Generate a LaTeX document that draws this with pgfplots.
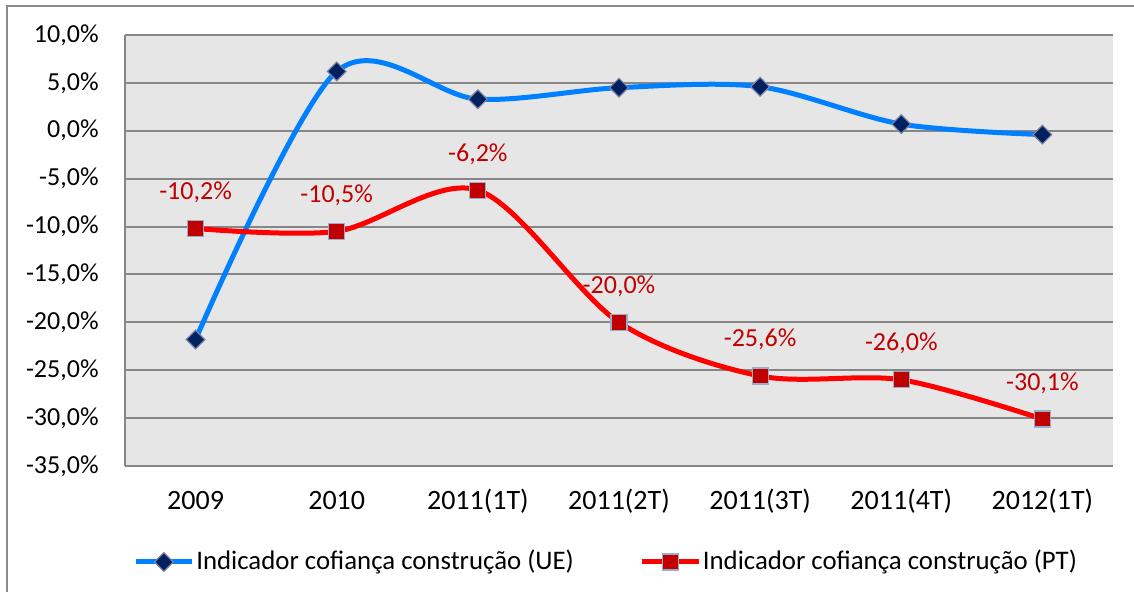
\documentclass[border=0pt]{standalone}
\usepackage{fontspec}
\setmainfont{Carlito}
\usepackage{pgfplots}
\pgfplotsset{compat=1.18}
\usepackage{pgfplotstable}
\definecolor{lineblue}{RGB}{0,128,255}
\definecolor{navy}{RGB}{0,32,96}
\definecolor{navyedge}{RGB}{120,130,165}
\definecolor{linered}{RGB}{255,0,0}
\definecolor{darkred}{RGB}{192,0,0}
\definecolor{rededge}{RGB}{150,175,205}
\definecolor{gridgray}{RGB}{134,134,134}
\definecolor{bggray}{RGB}{230,230,230}
\definecolor{framegray}{RGB}{140,140,140}
\pgfplotstableread{
x ue pt
0 -21.8 -10.2
1 6.2 -10.5
2 3.3 -6.2
3 4.5 -20.0
4 4.6 -25.6
5 0.7 -26.0
6 -0.4 -30.1
}\datatable
\begin{document}
\fontsize{13}{15.6}\selectfont
\begin{tikzpicture}
\useasboundingbox (0,0) rectangle (567pt,295.5pt);
\draw[framegray, line width=1pt] (3.5pt,-10pt) -- (3.5pt,292.5pt) -- (600pt,292.5pt);
\begin{axis}[
  at={(62.5pt,62.5pt)}, anchor=south west,
  scale only axis, width=494pt, height=215.5pt,
  xmin=-0.5, xmax=6.5, ymin=-35, ymax=10,
  xtick={0,...,6},
  xticklabels={2009,2010,2011(1T),2011(2T),2011(3T),2011(4T),2012(1T)},
  ytick={-35,-30,...,10},
  /pgf/number format/.cd, fixed, fixed zerofill, precision=1, use comma, assume math mode=true,
  /pgfplots/.cd,
  yticklabel={\pgfmathprintnumber{\tick}\%},
  yticklabel style={anchor=east, inner sep=0pt, xshift=-13pt},
  xticklabel style={anchor=base, inner sep=0pt, yshift=-21.5pt, font=\fontsize{14}{16}\selectfont},
  major tick length=0pt,
  axis lines*=left,
  axis line style={gridgray, line width=1pt, -},
  ymajorgrids, grid style={gridgray, line width=1pt},
  axis background/.style={fill=bggray},
  clip=false,
  legend columns=2,
  legend style={draw=none, fill=none, at={(0.487,-0.2227)}, anchor=center,
    /tikz/column 2/.style={column sep=32pt},
    font=\fontsize{13.4}{16}\selectfont,
    nodes={inner xsep=1pt, inner ysep=2pt}},
  legend image code/.code={\draw[mark repeat=2, mark phase=2, #1] plot coordinates {(0pt,0pt) (14pt,0pt) (28pt,0pt)};},
]
\addplot[lineblue, line width=2.5pt, smooth, tension=0.52,
  mark=square*, mark size=3.3pt,
  mark options={rotate=45, fill=navy, draw=navyedge, line width=0.6pt}]
  table[x=x, y=ue] {\datatable};
\addlegendentry{Indicador cofiança construção (UE)}
\addplot[linered, line width=2.5pt, smooth, tension=0.52,
  mark=square*, mark size=4pt,
  mark options={fill=darkred, draw=rededge, line width=0.6pt},
  point meta=y,
  nodes near coords={\pgfmathprintnumber[fixed, fixed zerofill, precision=1, use comma, assume math mode=true]{\pgfplotspointmeta}\%},
  nodes near coords style={anchor=base, inner sep=0pt, yshift=14.5pt, text=darkred}]
  table[x=x, y=pt] {\datatable};
\addlegendentry{Indicador cofiança construção (PT)}
\end{axis}
\end{tikzpicture}
\end{document}
